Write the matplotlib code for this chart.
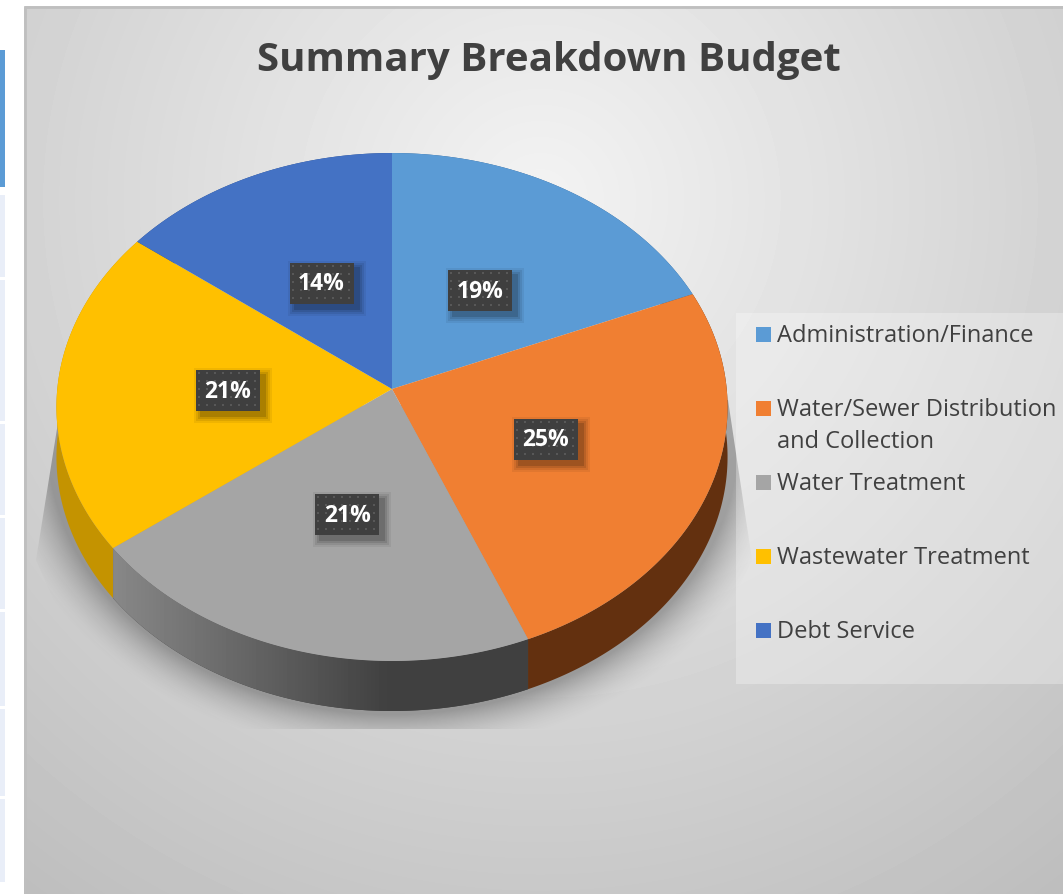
import numpy as np
import matplotlib.pyplot as plt
from matplotlib.patches import Rectangle, Polygon

plt.rcParams["font.family"] = ["Open Sans", "DejaVu Sans"]

categories = ["Administration/Finance", "Water/Sewer Distribution\nand Collection",
              "Water Treatment", "Wastewater Treatment", "Debt Service"]
values = [18.7, 25.1, 20.9, 20.7, 14.6]
pct_labels = ["19%", "25%", "21%", "21%", "14%"]
colors = ["#5B9BD5", "#F07F32", "#A5A5A5", "#FFC000", "#4472C4"]
side_colors = ["#2F5F8F", "#63300F", "#404040", "#C49300", "#2A4A85"]
table_rows = [(195, 277), (280, 421), (424, 515), (518, 609), (612, 706), (709, 796), (799, 882)]

W, H = 1063, 894
CX, CY = 392, 389
K, A, B = 0.0709, 252.7, 334.7
DEPTH = 50


def project(x, y):
    # perspective of the unit disc onto the page
    d = 1 + K * y
    return CX + B * x / d, CY - A * y / d


fig = plt.figure(figsize=(W / 100, H / 100), dpi=100)
ax = fig.add_axes([0, 0, 1, 1])

wedges, _ = ax.pie(values, startangle=90, counterclock=False, colors=colors)
angles = [(w.theta1, w.theta2) for w in wedges]
for w in wedges:
    w.remove()
ax.set_aspect("auto")
ax.set_xlim(0, W)
ax.set_ylim(H, 0)
ax.axis("off")

# background
yy, xx = np.mgrid[0:H, 0:W]
dist = np.hypot(xx - 540, yy - 200)
bg = np.clip(243 - 0.062 * dist, 0, 255) / 255
panel = ax.imshow(bg, cmap="gray", vmin=0, vmax=1, extent=(0, W, H, 0), zorder=1, aspect="auto")
panel.set_clip_path(Rectangle((24, 6), W, H, transform=ax.transData))
ax.plot([25, 25, W], [H, 7, 7], color="#BFBFBF", lw=2, zorder=2)

# table sliver on the left
ax.add_patch(Rectangle((0, 50), 5, 137, color="#5B9BD5", lw=0, zorder=2))
for y0, y1 in table_rows:
    ax.add_patch(Rectangle((0, y0), 5, y1 - y0, color="#E9EEF8", lw=0, zorder=2))

# soft shadow under the pie
d = (np.hypot((xx - 392) / 345, (yy - 442) / 272) - 1) * 300
sh = np.where(d < 0, 1, np.clip(1 - d / 46, 0, 1) ** 1.8) * 0.34
rgba = np.zeros((H, W, 4))
rgba[..., :3] = 0.15
rgba[..., 3] = sh
shadow = ax.imshow(rgba, extent=(0, W, H, 0), zorder=3, aspect="auto")
shadow.set_clip_path(Polygon([(60, 410), (36, 560), (110, 729), (670, 729), (752, 560), (728, 400)],
                             transform=ax.transData))

# legend panel
ax.add_patch(Rectangle((736, 313), W - 736, 371, color="white", alpha=0.28, lw=0, zorder=4))

# side walls, then the top faces
for (t1, t2), c in zip(angles, side_colors):
    t = np.radians(np.linspace(t1, t2, 240))
    px, py = project(np.cos(t), np.sin(t))
    verts = np.r_[np.c_[px, py], np.c_[px, py + DEPTH][::-1]]
    wall = Polygon(verts, color=c, lw=0, zorder=5)
    ax.add_patch(wall)
    if c == "#404040":
        ramp = np.clip((np.arange(W) - 115) / 275, 0, 1)
        g = (0.53 + (0.25 - 0.53) * ramp).reshape(1, -1)
        im = ax.imshow(g, cmap="gray", vmin=0, vmax=1, extent=(0, W, H, 0), zorder=5.1, aspect="auto")
        im.set_clip_path(Polygon(verts, transform=ax.transData))

for (t1, t2), c in zip(angles, colors):
    t = np.radians(np.linspace(t1, t2, 240))
    px, py = project(np.cos(t), np.sin(t))
    ax.add_patch(Polygon(np.r_[[[CX, CY]], np.c_[px, py]], color=c, lw=0, zorder=6))

# data labels
for (t1, t2), lab in zip(angles, pct_labels):
    mid = np.radians((t1 + t2) / 2)
    lx, ly = project(0.49 * np.cos(mid), 0.49 * np.sin(mid))
    ly += 1.5
    for grow, a in zip([7, 5, 3, 1], [0.06, 0.08, 0.1, 0.14]):
        ax.add_patch(Rectangle((lx - 32 + 5 - grow, ly - 20 + 5 - grow), 64 + 2 * grow, 41 + 2 * grow,
                               color="black", alpha=a, lw=0, zorder=7))
    ax.add_patch(Rectangle((lx - 32, ly - 20), 64, 41, color="#3F3F3F", lw=0, zorder=8))
    dx, dy = np.meshgrid(np.arange(lx - 29, lx + 32, 8), np.arange(ly - 17, ly + 21, 8))
    ax.scatter(dx.ravel(), dy.ravel(), s=3, marker="s", color="#585858", lw=0, zorder=9)
    ax.text(lx, ly + 1.5, lab, color="white", fontsize=16.5, fontweight="bold",
            ha="center", va="center", zorder=10)

ax.text(549, 60, "Summary Breakdown Budget", color="#404040", fontsize=29, fontweight="bold",
        ha="center", va="center", zorder=10)

# legend
for i, (name, c) in enumerate(zip(categories, colors)):
    y = 334 + 74 * i
    ax.add_patch(Rectangle((756, y - 7.5), 15, 15, color=c, lw=0, zorder=10))
    ax.text(777, y - 10, name, color="#404040", fontsize=17, ha="left", va="top",
            linespacing=1.42, zorder=10)

fig.savefig("out.png", dpi=100)
